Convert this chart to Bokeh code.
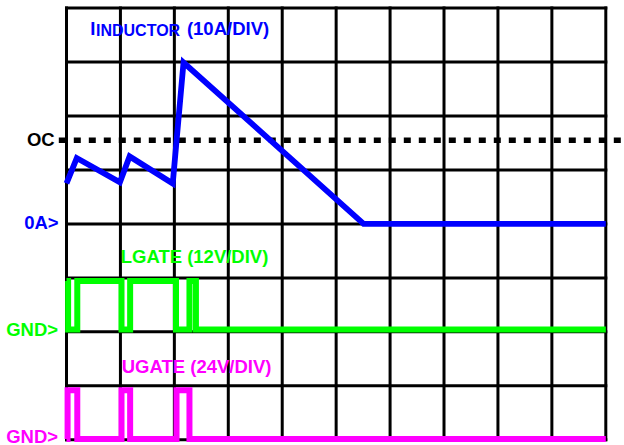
from bokeh.plotting import figure
from bokeh.models import Range1d
from bokeh.core.properties import value
from bokeh.embed import file_html
from bokeh.resources import INLINE

# ---------------- data ----------------
# scope grid: 10 time divisions x 8 vertical divisions
X_DIVS = [0, 1, 2, 3, 4, 5, 6, 7, 8, 9, 10]
Y_DIVS = [0, 1, 2, 3, 4, 5, 6, 7, 8]

# inductor current (A), 10 A/div, 0A reference at division 4
il_t = [0.0, 0.19, 0.99, 1.17, 1.97, 2.17, 5.51, 10.0]
il_a = [7.5, 12.2, 7.7, 12.5, 7.5, 29.9, 0.0, 0.0]
IL_SCALE = 10.0
IL_REF = 4
OC_LEVEL = 15.5

# LGATE (V), 12 V/div, GND reference at division 2
lg_t = [0.0, 0.03, 0.20, 1.02, 1.18, 2.03, 2.28, 2.40, 10.0]
lg_v = [11.3, 0.5, 11.3, 0.5, 11.3, 0.5, 11.3, 0.5, 0.5]
LG_SCALE = 12.0
LG_REF = 2

# UGATE (V), 24 V/div, GND reference at division 0
ug_t = [0.0, 0.02, 0.20, 1.02, 1.18, 2.04, 2.28, 10.0]
ug_v = [0.4, 22.0, 0.4, 22.0, 0.4, 22.0, 0.4, 0.4]
UG_SCALE = 24.0
UG_REF = 0

# ---------------- layout ----------------
W, H = 624, 445
PX = 53.93
PY = 53.97
x_start = -66.0 / PX
x_end = x_start + W / PX
y_start = -(H - 439.3) / PY
y_end = y_start + H / PY
TEXT_SHIFT = -7.0


def dx(px):
    return x_start + px / PX


def dy(py):
    return y_start + (H - py) / PY


p = figure(width=W, height=H, x_range=Range1d(x_start, x_end),
           y_range=Range1d(y_start, y_end), output_backend="svg",
           toolbar_location=None, min_border=0, outline_line_color=None,
           x_axis_type=None, y_axis_type=None)
p.grid.visible = False
p.background_fill_color = "white"
p.border_fill_color = "white"
p.margin = (0, 0, 0, 0)

ymin, ymax = Y_DIVS[0], Y_DIVS[-1]
xmin, xmax = X_DIVS[0], X_DIVS[-1]
p.segment(x0=X_DIVS, y0=[ymin] * len(X_DIVS), x1=X_DIVS, y1=[ymax] * len(X_DIVS),
          line_color="black", line_width=3, line_cap="square")
p.segment(x0=[xmin] * len(Y_DIVS), y0=Y_DIVS, x1=[xmax] * len(Y_DIVS), y1=Y_DIVS,
          line_color="black", line_width=3, line_cap="square")

oc_y = IL_REF + OC_LEVEL / IL_SCALE
p.line(x=[dx(58.3), x_end], y=[oc_y, oc_y], line_color="black",
       line_width=5.7, line_dash="7 8")

il_y = [IL_REF + a / IL_SCALE for a in il_a]
p.line(il_t, il_y, line_color="#0000FF", line_width=5.8, line_join="miter")

lg_y = [LG_REF + v / LG_SCALE for v in lg_v]
p.step(lg_t, lg_y, mode="after", line_color="#00FF00", line_width=6, line_join="miter")

ug_y = [UG_REF + v / UG_SCALE for v in ug_v]
p.step(ug_t, ug_y, mode="after", line_color="#FF00FF", line_width=6, line_join="miter")

FONT = value("Liberation Sans")
labels = [
    ("OC", 54.2, 146.0, "right", "black", "18.5px"),
    ("0A>", 58.1, 229.3, "right", "#0000FF", "18.5px"),
    ("GND>", 57.6, 336.0, "right", "#00FF00", "18.5px"),
    ("GND>", 57.6, 443.0, "right", "#FF00FF", "18.5px"),
    ("LGATE (12V/DIV)", 120.2, 262.7, "left", "#00FF00", "18.5px"),
    ("UGATE (24V/DIV)", 121.2, 373.3, "left", "#FF00FF", "18.5px"),
    ("I", 89.7, 35.0, "left", "#0000FF", "18.5px"),
    ("INDUCTOR", 95.5, 37.3, "left", "#0000FF", "16px"),
    ("(10A/DIV)", 186.4, 35.0, "left", "#0000FF", "18.5px"),
]
for txt, px, py, align, col, size in labels:
    p.text(x=[dx(px)], y=[dy(py + TEXT_SHIFT)], text=[txt], text_font=FONT,
           text_font_style="bold", text_font_size=size, text_align=align,
           text_baseline="alphabetic", text_color=col)

open("out.html", "w").write(file_html(p, INLINE))
